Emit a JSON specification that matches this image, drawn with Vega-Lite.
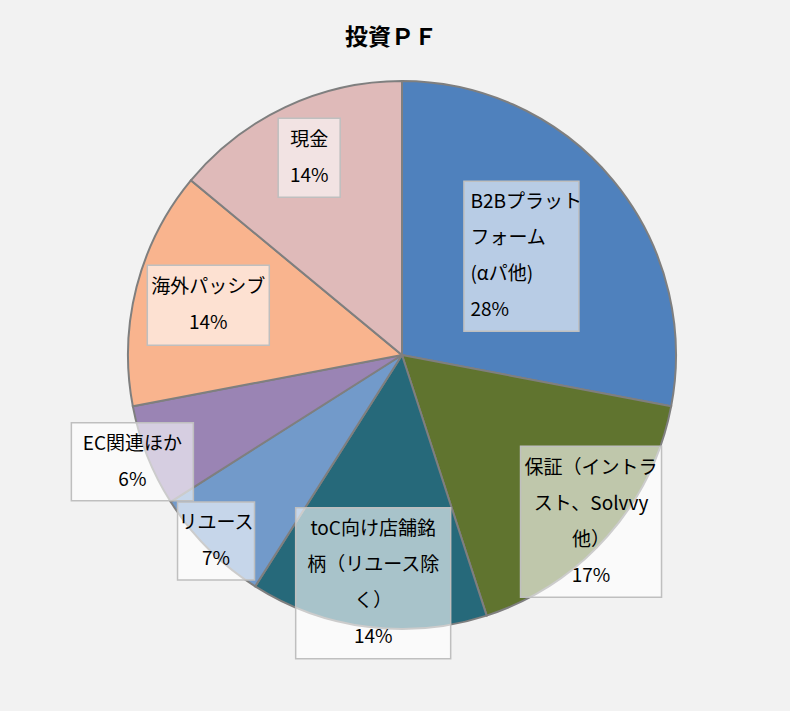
{
  "$schema": "https://vega.github.io/schema/vega-lite/v6.json",
  "description": "投資ＰＦ pie chart",
  "autosize": "none",
  "padding": {"left": 14, "top": 60, "right": 0, "bottom": 61},
  "width": 776,
  "height": 590,
  "background": "#F2F2F2",
  "config": {"view": {"stroke": null}},
  "title": {
    "text": "投資ＰＦ",
    "font": "Noto Sans CJK JP",
    "fontSize": 23,
    "fontWeight": "bold",
    "color": "#000000",
    "anchor": "middle",
    "dx": -11,
    "offset": 10
  },
  "data": {
    "values": [
      {"label": "B2Bプラット\nフォーム\n(αパ他)", "share": 28, "order": 1},
      {"label": "保証（イントラ\nスト、Solvvy\n他）", "share": 17, "order": 2},
      {"label": "toC向け店舗銘\n柄（リユース除\nく）", "share": 14, "order": 3},
      {"label": "リユース", "share": 7, "order": 4},
      {"label": "EC関連ほか", "share": 6, "order": 5},
      {"label": "海外パッシブ", "share": 14, "order": 6},
      {"label": "現金", "share": 14, "order": 7}
    ]
  },
  "transform": [
    {"stack": "share", "groupby": [], "sort": [{"field": "order", "order": "ascending"}], "as": ["start", "end"]},
    {"calculate": "(datum.start + datum.end) / 2", "as": "mid"},
    {"calculate": "datum.label + '\\n' + datum.share + '%'", "as": "display"}
  ],
  "layer": [
    {
      "mark": {"type": "arc", "outerRadius": 274, "stroke": "#7F7F7F", "strokeWidth": 2},
      "encoding": {
        "theta": {"field": "start", "type": "quantitative", "scale": {"domain": [0, 100]}},
        "theta2": {"field": "end"},
        "color": {
          "field": "order",
          "type": "nominal",
          "scale": {
            "domain": [1, 2, 3, 4, 5, 6, 7],
            "range": ["#4F81BD", "#60742F", "#26697A", "#729ACA", "#9A84B4", "#F9B48E", "#DFBAB9"]
          },
          "legend": null
        }
      }
    },
    {
      "mark": {
        "type": "point",
        "filled": false,
        "fill": "#FFFFFF",
        "fillOpacity": 0.6,
        "stroke": "#BFBFBF",
        "strokeOpacity": 1,
        "opacity": 1,
        "strokeWidth": 1.5,
        "size": 4,
        "x": {"expr": "width / 2 + scale('radius', datum.order) * sin(scale('theta', datum.mid))"},
        "y": {"expr": "height / 2 - scale('radius', datum.order) * cos(scale('theta', datum.mid))"}
      },
      "encoding": {
        "shape": {
          "field": "order",
          "type": "nominal",
          "scale": {
            "domain": [1, 2, 3, 4, 5, 6, 7],
            "range": [
              "M-57.5,-75H57.5V75H-57.5Z",
              "M-70.5,-75.5H70.5V75.5H-70.5Z",
              "M-77.5,-75.5H77.5V75.5H-77.5Z",
              "M-38.5,-39H38.5V39H-38.5Z",
              "M-61,-39H61V39H-61Z",
              "M-61,-40H61V40H-61Z",
              "M-31,-39.5H31V39.5H-31Z"
            ]
          },
          "legend": null
        }
      }
    },
    {
      "mark": {
        "type": "text",
        "font": "Noto Sans CJK JP",
        "fontSize": 19,
        "lineHeight": 36,
        "lineBreak": "\n",
        "align": {"expr": "datum.order == 1 ? 'left' : 'center'"},
        "baseline": "middle",
        "color": "#000000",
        "dx": {"expr": "datum.order == 1 ? -51 : 0"},
        "dy": {"expr": "-(length(split(datum.display, '\\n')) - 1) * 18"}
      },
      "encoding": {
        "theta": {"field": "mid", "type": "quantitative", "scale": {"domain": [0, 100]}},
        "radius": {
          "field": "order",
          "type": "quantitative",
          "scale": {
            "type": "linear",
            "domain": [1, 2, 3, 4, 5, 6, 7],
            "range": [155, 252, 230, 263, 290, 200, 218],
            "zero": false,
            "nice": false
          }
        },
        "text": {"field": "display", "type": "nominal"}
      }
    }
  ]
}
